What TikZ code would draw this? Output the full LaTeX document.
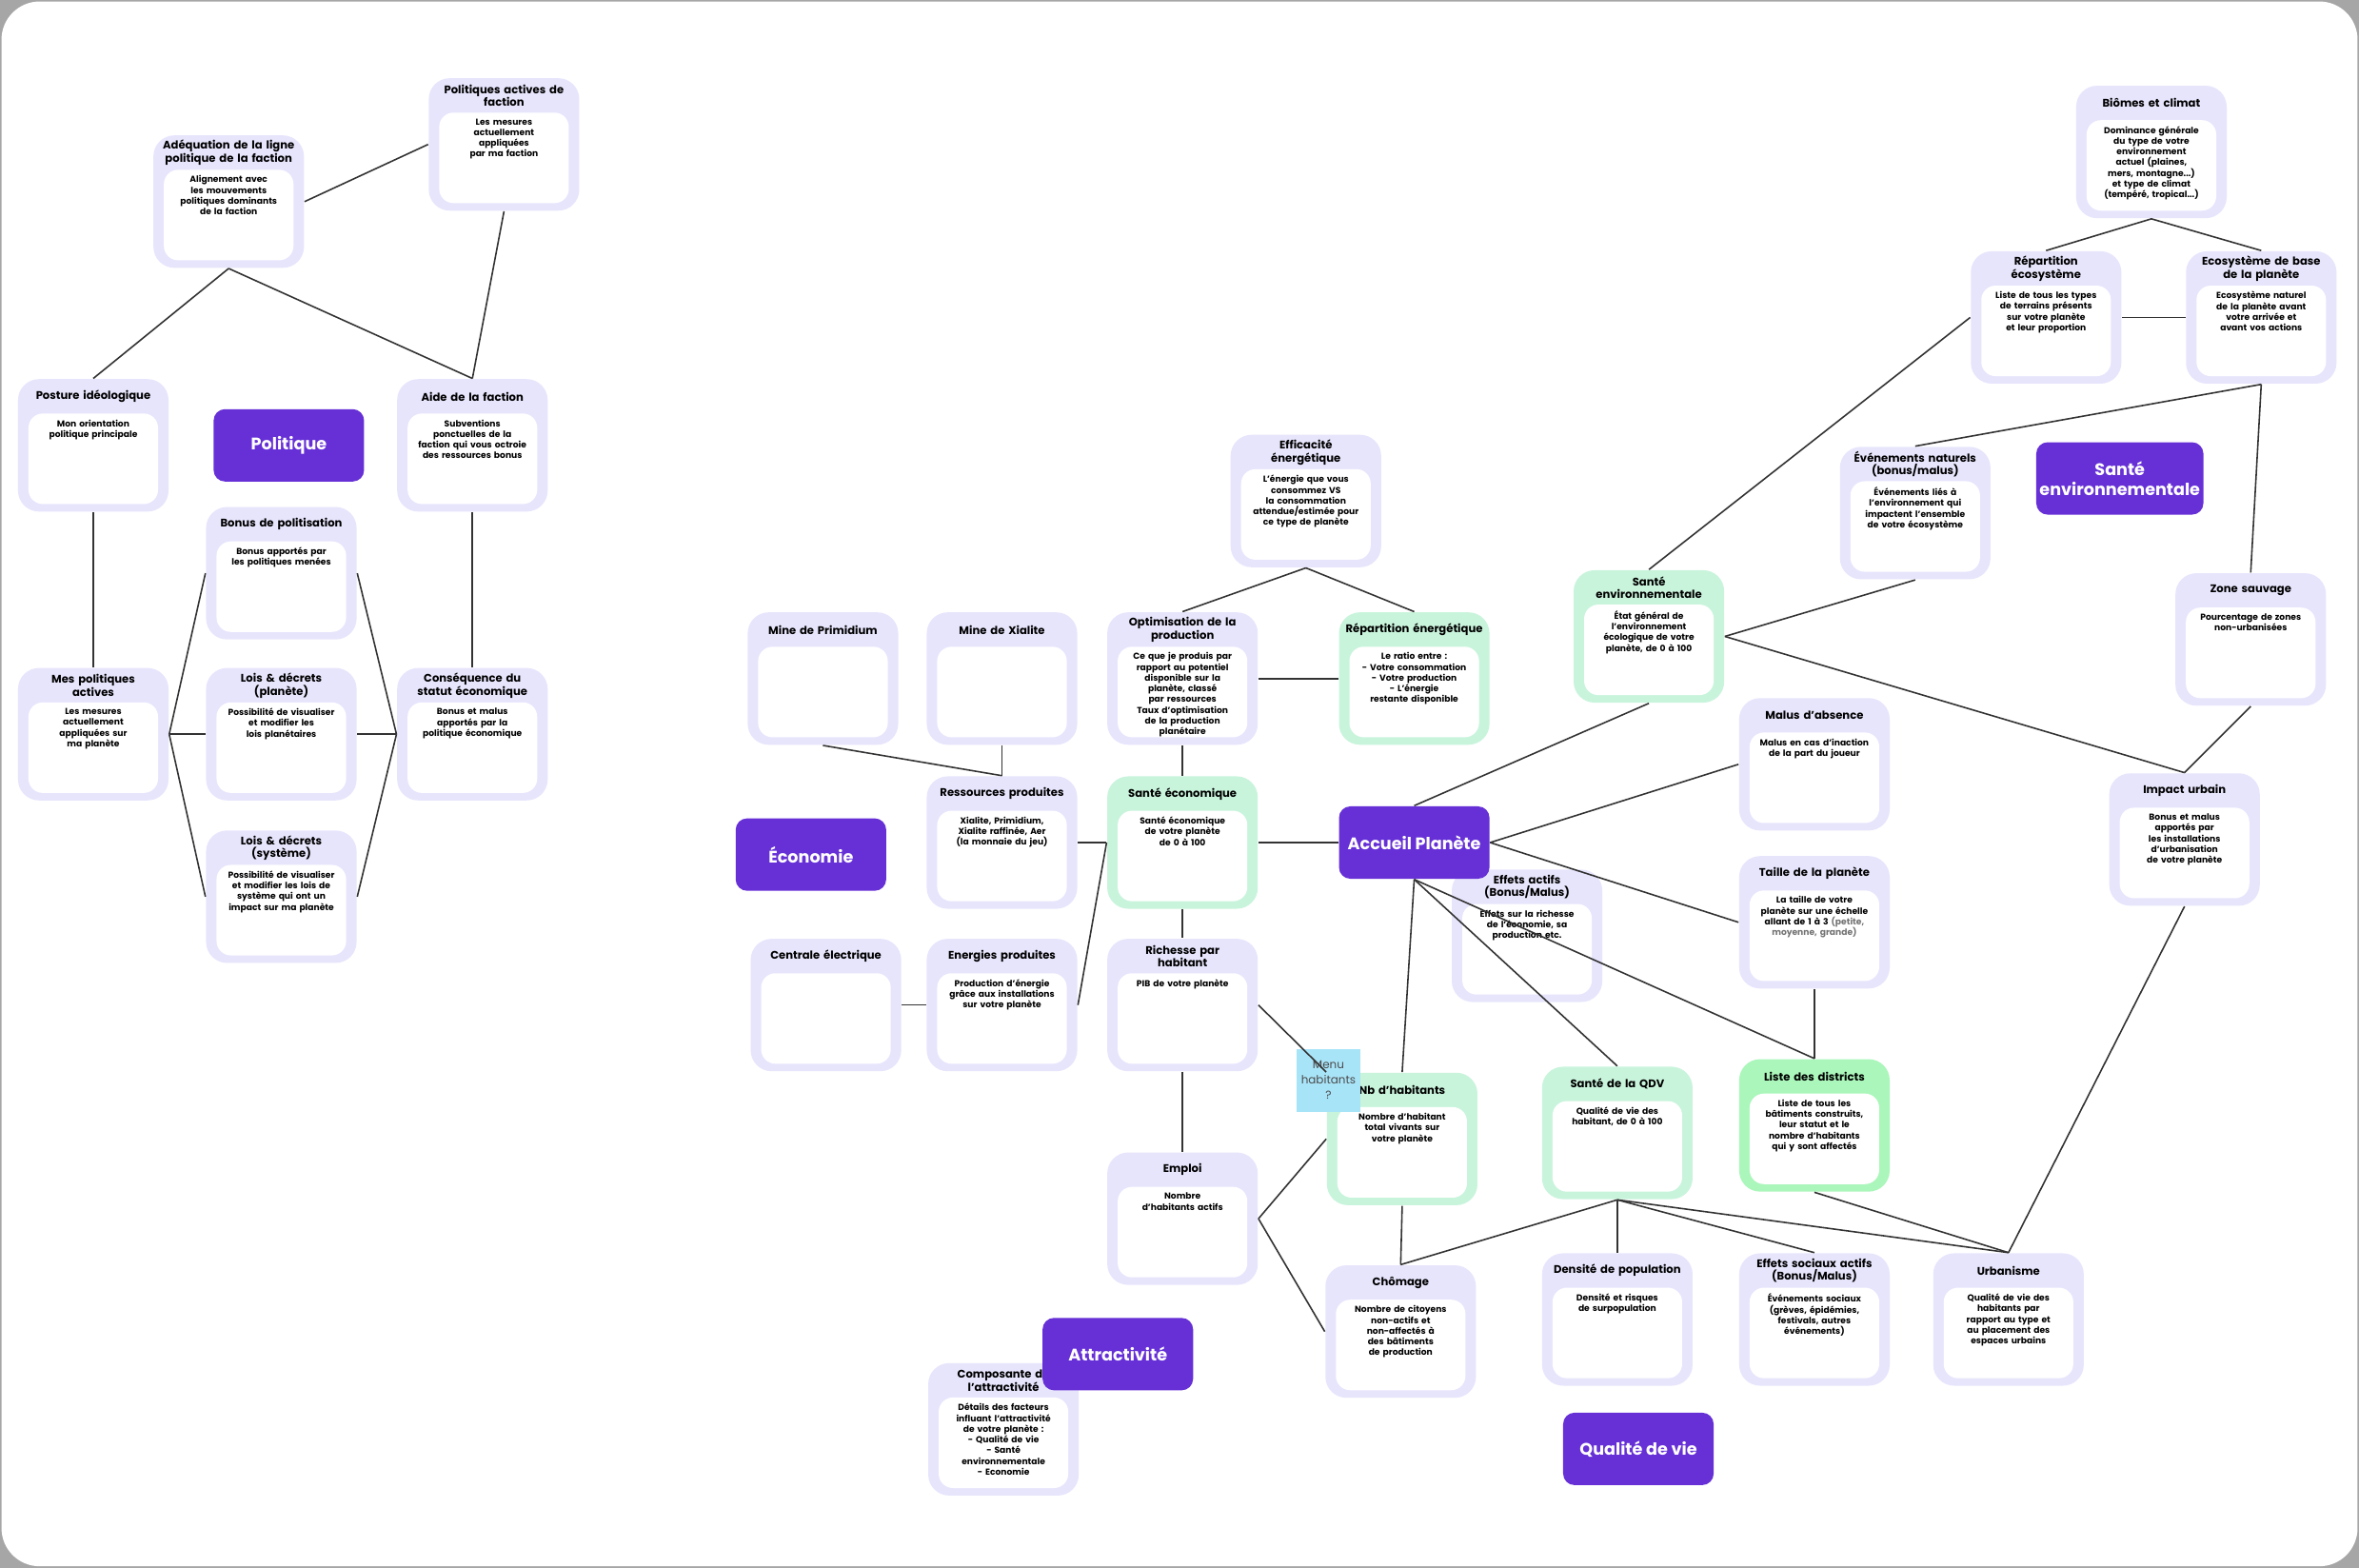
\documentclass[tikz,border=0pt]{standalone}
\usepackage{fontspec}
\setmainfont{Poppins}
\usetikzlibrary{calc, positioning, arrows.meta}
\definecolor{lav}{HTML}{E7E5FC}
\definecolor{vert}{HTML}{C9F4DC}
\definecolor{violet}{HTML}{6630D6}
\definecolor{post}{HTML}{A8E4F8}
\pgfdeclarelayer{mid}
\pgfsetlayers{mid,main}
\newcommand{\nohyph}{\hyphenpenalty=10000\exhyphenpenalty=10000}
\tikzset{
  card/.style={rounded corners=0.22cm, minimum width=1.58cm, minimum height=1.39cm, inner sep=0pt},
  cardin/.style={fill=white, rounded corners=0.15cm, minimum width=1.36cm, minimum height=0.95cm, inner sep=0pt, anchor=south},
  cardtitle/.style={font=\fontsize{3.3}{3.9}\selectfont\bfseries\nohyph, text width=1.45cm, align=center, inner sep=0pt},
  cardbody/.style={font=\fontsize{2.6}{3.2}\selectfont\bfseries\nohyph, text width=1.15cm, align=center, inner sep=0pt, anchor=north},
  lbl/.style={fill=violet, rounded corners=0.12cm, minimum width=1.58cm, minimum height=0.76cm, text=white, font=\fontsize{5}{6}\selectfont\bfseries, align=center, inner sep=1pt},
  link/.style={draw=black!80, line width=0.45pt},
}
% #1 couleur, #2 nom, #3 x, #4 y, #5 titre, #6 texte
\newcommand{\card}[6][lav]{%
  \node[card, fill=#1] (#2) at (#3,#4) {};
  \node[cardtitle] at ($(#2.north)+(0,12)$) {#5};
  \node[cardin] (#2-in) at ($(#2.south)+(0,-5)$) {};
  \node[cardbody] at ($(#2-in.north)+(0,4)$) {#6};
}
\begin{document}
\begin{tikzpicture}[x=0.0158cm, y=-0.0158cm]
\useasboundingbox (0,0) rectangle (1568,1042);
\fill[black!35] (0,0) rectangle (1568,1042);
\fill[white, rounded corners=0.4cm] (1,1) rectangle (1567,1041);

% Politique
\card{adeq}{152}{134}{Adéquation de la ligne\\politique de la faction}{Alignement avec les mouvements politiques dominants de la faction}
\card{polfac}{335}{96}{Politiques actives de\\faction}{Les mesures actuellement appliquées par ma faction}
\card{posture}{62}{296}{Posture idéologique}{Mon orientation politique principale}
\card{aide}{314}{296}{Aide de la faction}{Subventions ponctuelles de la faction qui vous octroie des ressources bonus}
\card{bonus}{187}{381}{Bonus de politisation}{Bonus apportés par les politiques menées}
\card{mespol}{62}{488}{Mes politiques\\actives}{Les mesures actuellement appliquées sur ma planète}
\card{loisp}{187}{488}{Lois \& décrets\\(planète)}{Possibilité de visualiser et modifier les lois planétaires}
\card{loiss}{187}{596}{Lois \& décrets\\(système)}{Possibilité de visualiser et modifier les lois de système qui ont un impact sur ma planète}
\card{conseq}{314}{488}{Conséquence du\\statut économique}{Bonus et malus apportés par la politique économique}
\node[lbl] (politique) at (192,296) {Politique};

% Economie
\card{mineP}{547}{451}{Mine de Primidium}{}
\card{mineX}{666}{451}{Mine de Xialite}{}
\card{optim}{786}{451}{Optimisation de la\\production}{Ce que je produis par rapport au potentiel disponible sur la planète, classé par ressources\\Taux d'optimisation de la production planétaire}
\card[vert]{repart}{940}{451}{Répartition énergétique}{Le ratio entre :\\- Votre consommation\\- Votre production\\- L'énergie restante disponible}
\card{effic}{868}{333}{Efficacité\\énergétique}{L'énergie que vous consommez VS la consommation attendue/estimée pour ce type de planète}
\card{ress}{666}{560}{Ressources produites}{Xialite, Primidium, Xialite raffinée, Aer (la monnaie du jeu)}
\card[vert]{santeEco}{786}{560}{Santé économique}{Santé économique de votre planète de 0 à 100}
\card{centrale}{549}{668}{Centrale électrique}{}
\card{energ}{666}{668}{Energies produites}{Production d'énergie grâce aux installations sur votre planète}
\card{richesse}{786}{668}{Richesse par\\habitant}{PIB de votre planète}
\card{emploi}{786}{810}{Emploi}{Nombre d'habitants actifs}
\card{compo}{667}{950}{Composante de\\l'attractivité}{Détails des facteurs influant l'attractivité de votre planète :\\- Qualité de vie\\- Santé environnementale\\- Economie}
\node[lbl] (economie) at (539,568) {Économie};
\node[lbl] (attract) at (743,900) {Attractivité};

% Qualite de vie
\card{effets}{1015}{622}{Effets actifs\\(Bonus/Malus)}{Effets sur la richesse de l'économie, sa production etc.}
\card{malus}{1206}{508}{Malus d'absence}{Malus en cas d'inaction de la part du joueur}
\card{taille}{1206}{613}{Taille de la planète}{La taille de votre planète sur une échelle allant de 1 à 3 \textcolor{black!55}{(petite, moyenne, grande)}}
\card[vert]{nbhab}{932}{757}{Nb d'habitants}{Nombre d'habitant total vivants sur votre planète}
\card[vert]{sqdv}{1075}{753}{Santé de la QDV}{Qualité de vie des habitant, de 0 à 100}
\card[vert!85!green]{districts}{1206}{748}{Liste des districts}{Liste de tous les bâtiments construits, leur statut et le nombre d'habitants qui y sont affectés}
\card{chomage}{931}{885}{Chômage}{Nombre de citoyens non-actifs et non-affectés à des bâtiments de production}
\card{densite}{1075}{877}{Densité de population}{Densité et risques de surpopulation}
\card{effsoc}{1206}{877}{Effets sociaux actifs\\(Bonus/Malus)}{Événements sociaux (grèves, épidémies, festivals, autres événements)}
\card{urban}{1335}{877}{Urbanisme}{Qualité de vie des habitants par rapport au type et au placement des espaces urbains}
\node[lbl] (qdv) at (1089,963) {Qualité de vie};
\node[lbl] (accueil) at (940,560) {Accueil Planète};
\node[fill=post, minimum size=0.66cm, inner sep=0pt, align=center, font=\fontsize{3.4}{4.6}\selectfont\color{black!70}] (menu) at (883,718) {Menu\\habitants\\?};

% Sante environnementale
\card{biomes}{1430}{101}{Biômes et climat}{Dominance générale du type de votre environnement actuel (plaines, mers, montagne...) et type de climat (tempéré, tropical...)}
\card{repeco}{1360}{211}{Répartition\\écosystème}{Liste de tous les types de terrains présents sur votre planète et leur proportion}
\card{ecobase}{1503}{211}{Ecosystème de base\\de la planète}{Ecosystème naturel de la planète avant votre arrivée et avant vos actions}
\card{evnat}{1273}{341}{Événements naturels\\(bonus/malus)}{Événements liés à l'environnement qui impactent l'ensemble de votre écosystème}
\card[vert]{santeEnv}{1096}{423}{Santé\\environnementale}{État général de l'environnement écologique de votre planète, de 0 à 100}
\card{zone}{1496}{425}{Zone sauvage}{Pourcentage de zones non-urbanisées}
\card{impact}{1452}{558}{Impact urbain}{Bonus et malus apportés par les installations d'urbanisation de votre planète}
\node[lbl] (santeLbl) at (1409,318) {Santé\\environnementale};

\begin{pgfonlayer}{mid}
\draw[link, dashed, -{Straight Barb[length=2pt]}] (conseq.east) -- (santeEco.west);
\end{pgfonlayer}

\draw[link] (adeq.east) -- (polfac.west);
\draw[link] (adeq.south) -- (posture.north);
\draw[link] (adeq.south) -- (aide.north);
\draw[link] (polfac.south) -- (aide.north);
\draw[link] (posture.south) -- (mespol.north);
\draw[link] (aide.south) -- (conseq.north);
\foreach \n in {bonus, loisp, loiss} {
  \draw[link] (mespol.east) -- (\n.west);
  \draw[link] (conseq.west) -- (\n.east);
}
\draw[link] (mineP.south) -- (ress.north);
\draw[link] (mineX.south) -- (ress.north);
\draw[link] (optim.north) -- (effic.south);
\draw[link] (repart.north) -- (effic.south);
\draw[link] (optim.east) -- (repart.west);
\draw[link] (optim.south) -- (santeEco.north);
\draw[link] (ress.east) -- (santeEco.west);
\draw[link] (energ.east) -- (santeEco.west);
\draw[link] (centrale.east) -- (energ.west);
\draw[link] (santeEco.south) -- (richesse.north);
\draw[link] (santeEco.east) -- (accueil.west);
\draw[link] (richesse.south) -- (emploi.north);
\draw[link] (richesse.east) -- (nbhab.north west);
\draw[link] (emploi.east) -- (nbhab.west);
\draw[link] (emploi.east) -- (chomage.west);
\draw[link] (nbhab.south) -- (chomage.north);
\foreach \n in {nbhab, sqdv, districts}
  \draw[link] (accueil.south) -- (\n.north);
\draw[link] (accueil.north) -- (santeEnv.south);
\draw[link] (accueil.east) -- (malus.west);
\draw[link] (accueil.east) -- (taille.west);
\draw[link] (taille.south) -- (districts.north);
\foreach \n in {chomage, densite, effsoc, urban}
  \draw[link] (sqdv.south) -- (\n.north);
\draw[link] (districts.south) -- (urban.north);
\draw[link] (impact.south) -- (urban.north);
\draw[link] (santeEnv.north) -- (repeco.west);
\draw[link] (santeEnv.east) -- (evnat.south);
\draw[link] (santeEnv.east) -- (impact.north);
\draw[link] (biomes.south) -- (repeco.north);
\draw[link] (biomes.south) -- (ecobase.north);
\draw[link] (repeco.east) -- (ecobase.west);
\draw[link] (ecobase.south) -- (evnat.north);
\draw[link] (ecobase.south) -- (zone.north);
\draw[link] (zone.south) -- (impact.north);
\end{tikzpicture}
\end{document}
